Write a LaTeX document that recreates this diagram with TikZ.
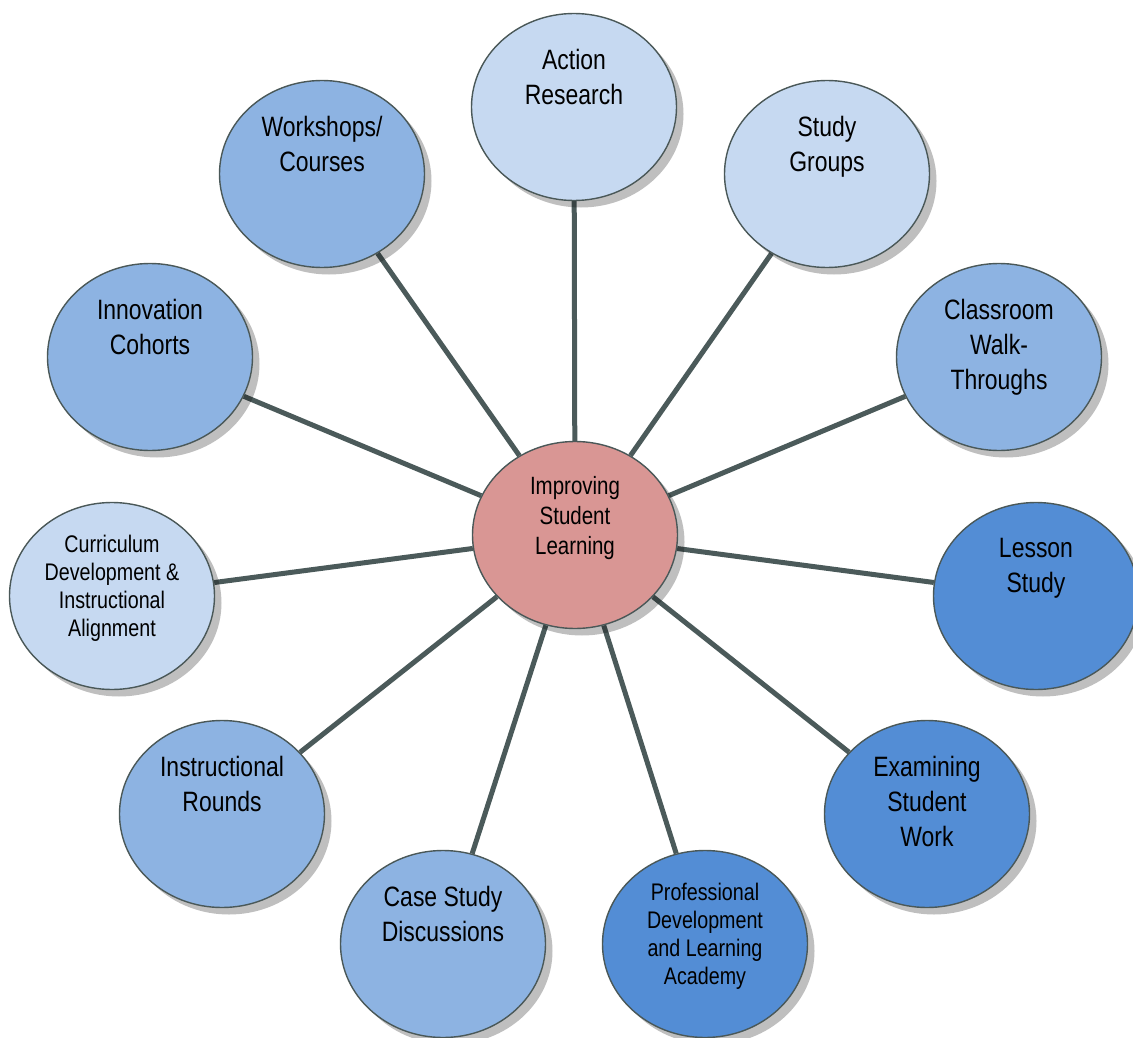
\documentclass[tikz,border=0pt]{standalone}
\usepackage{fontspec}
\setmainfont{Liberation Sans}[FakeStretch=0.82]
\usetikzlibrary{shapes.geometric,shadows,backgrounds}

\definecolor{palefill}{HTML}{C6D9F1}
\definecolor{midfill}{HTML}{8DB3E2}
\definecolor{deepfill}{HTML}{538DD5}
\definecolor{hubfill}{HTML}{D99694}
\definecolor{rimgray}{HTML}{4A5858}
\definecolor{spokegray}{HTML}{4B5A5A}

\tikzset{
  bubble/.style={ellipse, draw=rimgray, line width=1.4pt,
    minimum width=205pt, minimum height=187pt, inner sep=0pt,
    drop shadow={shadow xshift=7pt, shadow yshift=-7pt, fill=black, opacity=0.25}},
  pale/.style={bubble, fill=palefill},
  mid/.style={bubble, fill=midfill},
  deep/.style={bubble, fill=deepfill},
  hub/.style={bubble, fill=hubfill},
  bigtext/.style={anchor=north, align=center, inner sep=0pt,
    font=\fontsize{28}{35}\selectfont},
  smalltext/.style={anchor=north, align=center, inner sep=0pt,
    font=\fontsize{24}{28}\selectfont},
  hubtext/.style={anchor=north, align=center, inner sep=0pt,
    font=\fontsize{25}{30}\selectfont},
  spoke/.style={draw=spokegray, line width=5pt}
}

\begin{document}
\begin{tikzpicture}[x=1pt, y=-1pt]
\useasboundingbox (0,0) rectangle (1133,1038);

% hub and surrounding practices
\node[hub]  (c)   at (575,535) {};
\node[pale] (ar)  at (574,107) {};
\node[pale] (sg)  at (827,174) {};
\node[mid]  (ws)  at (322,174) {};
\node[mid]  (ic)  at (150,357) {};
\node[mid]  (cw)  at (999,357) {};
\node[pale] (cd)  at (112,596) {};
\node[deep] (ls)  at (1036,596) {};
\node[mid]  (ir)  at (222,814) {};
\node[deep] (esw) at (927,814) {};
\node[mid]  (cs)  at (443,944) {};
\node[deep] (pd)  at (705,944) {};

% labels, set from the top of each bubble
\node[hubtext]   (c-t)   at ([yshift=59pt]c.center)   {Improving\\Student\\Learning};
\node[bigtext]   (ar-t)  at ([yshift=58pt]ar.center)  {Action\\Research};
\node[bigtext]   (sg-t)  at ([yshift=58pt]sg.center)  {Study\\Groups};
\node[bigtext]   (ws-t)  at ([yshift=58pt]ws.center)  {Workshops/\\Courses};
\node[bigtext]   (ic-t)  at ([yshift=58pt]ic.center)  {Innovation\\Cohorts};
\node[bigtext]   (cw-t)  at ([yshift=58pt]cw.center)  {Classroom\\Walk-\\Throughs};
\node[smalltext] (cd-t)  at ([yshift=61pt]cd.center)  {Curriculum\\Development \&\\Instructional\\Alignment};
\node[bigtext]   (ls-t)  at ([yshift=58pt]ls.center)  {Lesson\\Study};
\node[bigtext]   (ir-t)  at ([yshift=58pt]ir.center)  {Instructional\\Rounds};
\node[bigtext]   (esw-t) at ([yshift=58pt]esw.center) {Examining\\Student\\Work};
\node[bigtext]   (cs-t)  at ([yshift=58pt]cs.center)  {Case Study\\Discussions};
\node[smalltext] (pd-t)  at ([yshift=61pt]pd.center)  {Professional\\Development\\and Learning\\Academy};

% spokes from the hub
\begin{scope}[on background layer]
  \foreach \n in {ar,sg,ws,ic,cw,cd,ls,ir,esw,cs,pd}
    \draw[spoke] (c) -- (\n);
\end{scope}
\end{tikzpicture}
\end{document}
